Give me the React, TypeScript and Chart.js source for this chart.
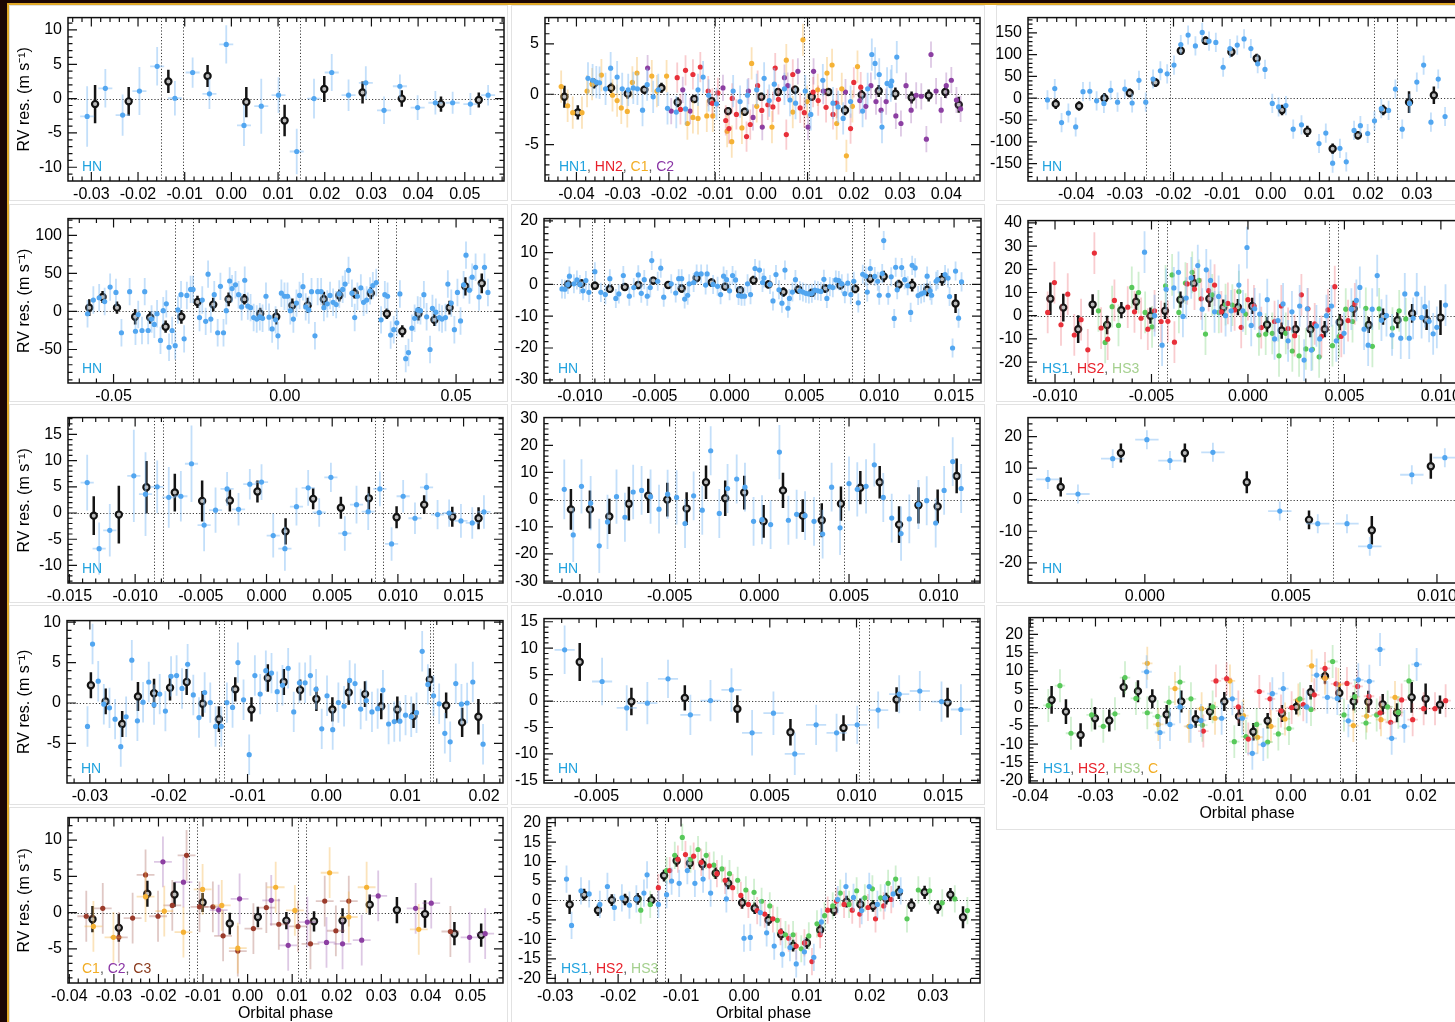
import React, { useEffect, useRef } from "react";
import { Chart, registerables } from "chart.js";
Chart.register(...registerables);

type Pt = number[];

// ---------------- Panel A ----------------
const aHN: Pt[] = [[-0.0309,-2.6,4.4],[-0.027,1.5,2.8],[-0.0233,-2.4,3.0],[-0.0197,1.1,3.5],[-0.0159,4.7,2.8],[-0.0121,0.05,2.5],[-0.0083,3.8,2.2],[-0.0047,0.7,2.2],[-0.0011,7.9,2.8],[0.0027,-3.9,3.0],[0.0064,-1.1,4.0],[0.0101,0.5,2.6],[0.014,-7.7,3.3],[0.0177,0.0,2.9],[0.0215,3.8,2.7],[0.0251,0.5,2.3],[0.0288,2.3,2.4],[0.0327,-1.7,2.0],[0.0361,1.8,1.7],[0.0399,-1.3,1.8],[0.0437,-0.6,1.7],[0.0474,-0.6,1.6],[0.0512,-0.8,1.6],[0.055,0.5,1.5]];
const aBin: Pt[] = [[-0.0292,-0.8,2.8],[-0.022,-0.4,2.1],[-0.0135,2.5,1.7],[-0.0051,3.3,1.6],[0.0032,-0.5,2.2],[0.0114,-3.2,2.3],[0.0199,1.4,1.9],[0.0281,0.9,1.6],[0.0365,0.0,1.2],[0.0449,-0.8,1.1],[0.053,-0.2,1.1]];
const aXTicks = [-0.03,-0.02,-0.01,0,0.01,0.02,0.03,0.04,0.05];
const aYTicks = [-10,-5,0,5,10];
const aContacts = [-0.015,-0.0103,0.0101,0.0146];

// ---------------- Panel B ----------------
const bHN1: Pt[] = [[-0.0375,1.58],[-0.0365,1.39],[-0.0357,1.2],[-0.035,1.14],[-0.0337,0.54],[-0.0326,2.59],[-0.0312,1.7],[-0.0301,0.54],[-0.0288,0.44],[-0.0277,0.63],[-0.0268,0.54],[-0.0257,-1.58],[-0.0247,0.95],[-0.0234,-0.25],[-0.0223,0.44],[-0.0203,-1.39],[-0.0184,-1.77],[-0.0164,-1.45],[-0.0137,0.44],[-0.0126,1.7],[-0.0114,-0.1],[-0.0097,-0.95],[-0.0061,0.32],[-0.0046,-0.73],[-0.003,-0.1],[-0.001,0.44],[0.0006,1.58],[0.0017,-0.63],[0.0028,1.0],[0.005,0.54],[0.0062,-0.57],[0.0074,-0.88],[0.0095,0.32],[0.0107,-2.0],[0.0133,1.39],[0.0155,-0.88],[0.0166,-1.26],[0.0177,-2.4],[0.0193,-0.73],[0.0219,-1.67],[0.023,0.54],[0.0239,3.94],[0.0246,3.06],[0.0255,1.96],[0.0261,-3.25],[0.0272,1.07],[0.028,0.85],[0.0282,1.3],[0.0293,3.69]];
const bHN2: Pt[] = [[-0.0182,1.64],[-0.0175,-1.5],[-0.0164,2.37],[-0.0148,1.96],[-0.0132,2.7],[-0.0115,0.32],[-0.0106,-0.9],[-0.0094,0.13],[-0.0077,-2.6],[-0.007,-3.4],[-0.0063,-0.41],[-0.0054,-2.0],[-0.0032,-4.2],[-0.0024,-3.0],[-0.0008,0.85],[0.0001,-1.6],[0.0014,-1.04],[0.0025,-1.26],[0.003,2.6],[0.0037,-0.5],[0.0054,-4.0],[0.0068,1.96],[0.0084,-1.36],[0.0093,-1.83],[0.0112,0.22],[0.0123,-0.63],[0.014,-1.3],[0.0155,-2.0],[0.0163,-0.88],[0.0193,-3.4],[0.02,1.17],[0.0215,0.7]];
const bC1: Pt[] = [[-0.0433,0.76],[-0.0419,-1.14],[-0.0408,-1.83],[-0.0388,-1.83],[-0.0377,0.32],[-0.0366,1.0],[-0.0346,1.9],[-0.0322,-0.1],[-0.0312,-0.63],[-0.0303,-1.36],[-0.029,-1.7],[-0.0279,1.17],[-0.0269,2.1],[-0.0237,1.8],[-0.0226,0.32],[-0.0205,1.8],[-0.016,-2.9],[-0.0148,-2.3],[-0.0137,-2.4],[-0.0118,-2.15],[-0.0105,-2.15],[-0.0074,-3.66],[-0.0064,-4.7],[-0.0042,-3.34],[-0.0021,3.06],[-0.001,-1.2],[0.0023,-3.25],[0.0054,3.38],[0.0068,-1.77],[0.009,5.4],[0.0099,-0.73],[0.0122,0.44],[0.0142,2.1],[0.0153,2.9],[0.0163,-2.9],[0.0174,0.54],[0.0184,-6.1],[0.0197,-1.2],[0.0208,2.74]];
const bC2: Pt[] = [[-0.0246,2.6],[-0.0195,-1.67],[-0.017,0.44],[-0.0154,-1.67],[-0.0083,0.63],[-0.0028,0.32],[-0.0018,-2.3],[0.0002,-3.25],[0.005,1.64],[0.0057,0.85],[0.0079,2.27],[0.0101,-3.25],[0.0113,2.27],[0.0134,0.32],[0.0182,0.22],[0.0213,-0.63],[0.0226,-1.2],[0.0237,0.85],[0.0248,-0.73],[0.0259,-1.58],[0.027,-0.73],[0.0291,-2.15],[0.0302,-2.9],[0.0313,0.85],[0.0324,-1.58],[0.0335,-0.1],[0.0346,-0.2],[0.0357,-4.45],[0.0367,3.94],[0.0378,0.32],[0.0389,-1.58],[0.04,0.85],[0.0411,1.39],[0.0422,-0.57],[0.0431,-1.45]];
const bBin: Pt[] = [[-0.0426,-0.25,1.1],[-0.0397,-1.8,0.7],[-0.0362,1.07,0.5],[-0.0325,0.63,0.5],[-0.0289,0.06,0.5],[-0.0253,0.44,0.4],[-0.0216,0.63,0.5],[-0.0181,-0.8,0.5],[-0.0145,-0.47,0.4],[-0.0108,-0.66,0.4],[-0.0072,-1.67,0.4],[-0.0036,-1.73,0.4],[0.0,-0.25,0.4],[0.0036,0.22,0.4],[0.0073,0.44,0.4],[0.0109,-0.25,0.4],[0.0145,0.22,0.4],[0.0181,-1.58,0.5],[0.0217,-0.06,0.5],[0.0254,0.32,0.6],[0.029,0.06,0.6],[0.0325,-0.32,0.6],[0.0362,-0.13,0.6],[0.0398,0.22,0.6],[0.0427,-1.04,0.8]];
const bXTicks = [-0.04,-0.03,-0.02,-0.01,0,0.01,0.02,0.03,0.04];
const bYTicks = [-5,0,5];
const bContacts = [-0.0103,-0.0092,0.0093,0.0104];

// ---------------- Panel C ----------------
const cHN: Pt[] = [[-0.0459,-4],[-0.0444,22],[-0.043,-56],[-0.0416,-34],[-0.0401,-66],[-0.0386,15],[-0.0372,16],[-0.0358,-6],[-0.0343,-12],[-0.0329,18],[-0.0315,-9],[-0.03,21],[-0.0285,-11],[-0.0271,41],[-0.0257,-9],[-0.0242,44],[-0.0227,63],[-0.0213,56],[-0.0199,76],[-0.0185,123],[-0.017,145],[-0.0155,120],[-0.0141,151],[-0.0127,131],[-0.0113,128],[-0.0098,71],[-0.0084,114],[-0.0069,122],[-0.0055,136],[-0.0041,114],[-0.0027,79],[-0.0012,66],[0.0003,-12],[0.0016,-20],[0.0031,-17],[0.0046,-71],[0.0063,-61],[0.0099,-104],[0.0113,-80],[0.0127,-149],[0.0142,-115],[0.0155,-146],[0.0171,-74],[0.0184,-63],[0.0199,-81],[0.0213,-52],[0.0227,-24],[0.0242,-28],[0.0256,21],[0.027,-71],[0.0285,-12],[0.03,37],[0.0314,76],[0.0329,-55],[0.0344,44],[0.0358,-42]];
const cBin: Pt[] = [[-0.0442,-13,12],[-0.0394,-18,11],[-0.0342,0,12],[-0.029,12,10],[-0.0237,36,10],[-0.0185,109,10],[-0.0134,132,10],[-0.0081,106,11],[-0.0029,91,11],[0.0023,-27,12],[0.0075,-76,13],[0.0127,-116,12],[0.0179,-85,10],[0.0231,-27,12],[0.0284,-9,25],[0.0335,7,20]];
const cXTicks = [-0.04,-0.03,-0.02,-0.01,0,0.01,0.02,0.03];
const cYTicks = [-150,-100,-50,0,50,100,150];
const cContacts = [-0.0257,-0.0208,0.0212,0.026];

// ---------------- Panel D ----------------
const dHN: Pt[] = [[-0.0576,-3],[-0.0559,15],[-0.0542,18],[-0.0526,13],[-0.051,32],[-0.0493,25],[-0.0477,-28],[-0.0453,26],[-0.0436,-26],[-0.0428,-4],[-0.0417,-25],[-0.0409,26],[-0.0399,-25],[-0.0389,-10],[-0.0381,-17],[-0.0373,-3],[-0.0363,-38],[-0.0355,1],[-0.0346,10],[-0.0338,-47],[-0.0329,-25],[-0.032,-45],[-0.0312,2],[-0.0303,22],[-0.0294,-36],[-0.0286,21],[-0.0275,29],[-0.0268,29],[-0.0249,-8],[-0.0241,15],[-0.0231,-13],[-0.0224,49],[-0.0216,-10],[-0.0206,22],[-0.0196,-28],[-0.0188,33],[-0.0179,-28],[-0.0171,1],[-0.0161,40],[-0.0154,30],[-0.0144,35],[-0.0135,22],[-0.0126,6],[-0.0117,41],[-0.0108,7],[-0.01,5],[-0.0091,-8],[-0.0082,-10],[-0.0073,-7],[-0.0065,-9],[-0.0055,20],[-0.0046,-7.5],[-0.0037,-23],[-0.0027,-11],[-0.002,-32],[-0.001,24],[-0.0001,20],[0.0008,20],[0.0016,1],[0.0025,-10],[0.0034,11],[0.0043,21],[0.0053,32.5],[0.0061,6],[0.007,2],[0.0078,26],[0.0088,-32],[0.0096,26],[0.0106,26],[0.0114,5],[0.0124,10],[0.0132,21],[0.0141,12],[0.015,9],[0.0159,23],[0.0169,29],[0.0176,36],[0.0186,54],[0.0196,24],[0.0204,-8],[0.0212,20],[0.0222,31],[0.023,12],[0.0239,15],[0.0249,27],[0.0257,34],[0.0267,38],[0.0281,-11],[0.0292,22],[0.03,20],[0.0309,-31],[0.0318,-24],[0.0327,-15],[0.0336,23],[0.0353,-62],[0.0361,-54],[0.0371,-22],[0.0379,-9],[0.0388,2],[0.0396,1],[0.0406,22],[0.0414,-7],[0.0424,-50],[0.0431,4],[0.0441,-1],[0.0451,-8],[0.0459,-10],[0.0469,-8],[0.0476,36],[0.0486,11],[0.0495,-24],[0.0504,25],[0.0513,-12.5],[0.0522,35],[0.0529,74],[0.0539,28],[0.0547,45],[0.0557,58],[0.0567,19],[0.0583,58],[0.0593,25]];
const dBin: Pt[] = [[-0.0571,5,11],[-0.0532,19,8],[-0.049,5,8],[-0.0437,-7,10],[-0.0393,-8,8],[-0.0348,-20,8],[-0.0302,-7,9],[-0.0255,12.5,8],[-0.0209,9,9],[-0.0164,16,9],[-0.0118,16,7],[-0.0072,-3,8],[-0.0025,-7,10],[0.0022,8,9],[0.0067,8,10],[0.0114,16,10],[0.0159,21,8],[0.0204,24,7],[0.0251,24,8],[0.0298,-3,7],[0.0343,-26,8],[0.039,-3,9],[0.0437,-11,8],[0.0481,5,9],[0.0527,33,12],[0.0575,37,13]];
const dXTicks = [-0.05,0,0.05];
const dYTicks = [-50,0,50,100];
const dContacts = [-0.032,-0.0268,0.0272,0.0324];

// ---------------- Panel E ----------------
const eHN: Pt[] = [[-0.0112,-1.4],[-0.011,-1.5],[-0.0108,0],[-0.0107,2.6],[-0.0104,0.2],[-0.0102,1.4],[-0.01,0],[-0.0098,-2.0],[-0.0096,1.2],[-0.0094,-2.5],[-0.009,4.0],[-0.0086,-2.5],[-0.0083,-3.2],[-0.008,1.8],[-0.0076,-4.4],[-0.0074,-3.0],[-0.0071,2.8],[-0.0067,-3.7],[-0.0064,-1.0],[-0.0061,3.0],[-0.0059,-2.8],[-0.0057,1.5],[-0.0055,-3.7],[-0.0053,-1.0],[-0.0052,7.5],[-0.0048,1.0],[-0.0046,5.1],[-0.0044,-4.0],[-0.0039,0.2],[-0.0036,-2.7],[-0.0034,1.8],[-0.0032,1.8],[-0.003,-4.6],[-0.0028,-3.4],[-0.0027,0.2],[-0.0024,0.6],[-0.0022,3.3],[-0.0019,3.3],[-0.0016,-0.2],[-0.0015,3.3],[-0.0011,0],[-0.0008,-0.6],[-0.0006,-3.2],[-0.0004,2.6],[-0.0002,1.5],[0.0,-2.0],[0.0002,2.8],[0.0004,1.4],[0.0006,-3.5],[0.0008,-3.7],[0.001,-3.7],[0.0012,0.2],[0.0014,-3.2],[0.0017,5.0],[0.002,4.5],[0.0022,0.6],[0.0023,2.0],[0.0027,0],[0.0029,-5.2],[0.0031,3.1],[0.0033,-1.7],[0.0035,-5.9],[0.0037,4.5],[0.0039,-7.5],[0.004,-4.4],[0.0042,-2.4],[0.0044,1.5],[0.0047,-2.0],[0.0049,-2.4],[0.0051,-2.8],[0.0053,-3.0],[0.0055,-2.8],[0.0057,-1.8],[0.0059,-2.0],[0.0061,-2.2],[0.0063,1.6],[0.0065,-4.4],[0.0067,-0.7],[0.0069,-1.0],[0.0071,1.4],[0.0073,1.2],[0.0075,0.2],[0.0077,-2.9],[0.0079,0.4],[0.0081,-3.2],[0.0083,1.0],[0.0086,-5.8],[0.0089,3.2],[0.0091,2.6],[0.0092,-2.4],[0.0094,5.0],[0.0097,2.5],[0.0099,1.0],[0.01,-3.4],[0.0102,3.4],[0.0103,13.8],[0.0106,-3.4],[0.0108,2.4],[0.011,-10.7],[0.0111,5.4],[0.0112,-1.7],[0.0115,5.3],[0.0117,1.5],[0.0119,-0.4],[0.0121,-8.8],[0.0122,6.0],[0.0124,5.2],[0.0126,-3.5],[0.0128,-3.0],[0.013,-2.6],[0.0132,2.6],[0.0134,-2.0],[0.0135,-3.4],[0.0138,1.0],[0.0139,1.5],[0.0144,3.1],[0.0146,2.0],[0.0147,-3.8],[0.0149,-20],[0.0151,4.2],[0.0153,-10.6],[0.0155,0.8]];
const eBin: Pt[] = [[-0.0108,0,1.3],[-0.0099,0.3,1.3],[-0.009,-0.4,1.3],[-0.008,-1.4,1.2],[-0.007,-0.8,1.2],[-0.0061,-0.2,1.3],[-0.0051,1.2,1.2],[-0.0041,-0.2,1.2],[-0.0032,-1.3,1.3],[-0.0022,2.0,1.3],[-0.0012,0.6,1.3],[-0.0003,-0.7,1.2],[0.0007,-1.8,1.3],[0.0016,1.3,1.4],[0.0026,0,1.3],[0.0036,-2.4,1.5],[0.0046,-1.6,1.2],[0.0055,-2.6,1.2],[0.0064,-1.3,1.3],[0.0074,-0.3,1.3],[0.0084,-1.4,1.4],[0.0094,1.8,1.5],[0.0103,2.5,1.8],[0.0113,0,1.5],[0.0122,-0.2,2.0],[0.0132,-1.7,2.0],[0.0142,1.6,2.0],[0.0151,-6.0,3.0]];
const eXTicks = [-0.01,-0.005,0,0.005,0.01,0.015];
const eYTicks = [-30,-20,-10,0,10,20];
const eContacts = [-0.0092,-0.0084,0.0082,0.009];

// ---------------- Panel F ----------------
const fHS1: Pt[] = [[-0.00536,27.4],[-0.00484,0],[-0.00445,-12.7],[-0.00424,11.4],[-0.00384,12.0],[-0.0036,18.7],[-0.00337,-0.3],[-0.0032,7.6],[-0.00294,16.3],[-0.0026,21.6],[-0.00237,2.8],[-0.00216,19.8],[-0.00194,15.2],[-0.00173,1.7],[-0.00152,8.3],[-0.00116,0],[-0.00087,2.1],[-0.00047,13.2],[-0.00026,2.1],[-0.00005,29.4],[0.00017,-4.2],[0.00035,3.0],[0.00061,0.7],[0.001,6.9],[0.00138,-10.0],[0.00156,-2.1],[0.00182,5.1],[0.00208,-10.8],[0.00228,1.7],[0.00268,4.2],[0.00291,-19.1],[0.00308,3.0],[0.00329,-14.8],[0.00355,-4.4],[0.00372,-10.0],[0.00407,0],[0.00433,4.2],[0.00458,-10.8],[0.00498,-7.6],[0.00536,2.8],[0.00562,6.6],[0.0058,12.2],[0.00602,-5.8],[0.00623,-12.7],[0.00644,2.8],[0.0067,17.3],[0.00692,-1.9],[0.00718,0],[0.00747,-8.3],[0.00792,-9.7],[0.00813,9.4],[0.00836,-9.7],[0.00856,-1.1],[0.00875,9.4],[0.009,-0.8],[0.00917,3.9],[0.00939,-2.4],[0.0096,-7.8],[0.00979,-5.0],[0.01024,4.6]];
const fHS2: Pt[] = [[-0.01038,1.4],[-0.01003,14.3],[-0.00969,-3.9],[-0.00934,9.3],[-0.009,-8.3],[-0.00865,-1.7],[-0.0083,-14.7],[-0.00796,27],[-0.00761,-5.3],[-0.00727,-10.1],[-0.00692,6.6],[-0.00623,3.7],[-0.00588,1.7],[-0.00554,-1.1],[-0.00519,-5.8],[-0.00484,2.1],[-0.0045,-2.5],[-0.00415,-2.4],[-0.00381,-11.4],[-0.00315,13.7],[-0.00277,11.5],[-0.00242,7.3],[-0.00204,10.8],[-0.00173,13.2],[-0.00138,1.7],[-0.00104,5.3],[-0.00069,2.5],[-0.00035,-5.0],[0.0,6.9],[0.00031,4.2],[0.00069,-5.1],[0.00138,-2.5],[0.00173,4.2],[0.00208,-5.5],[0.00242,-8.6],[0.00277,9.0],[0.00311,3.0],[0.00346,-3.5],[0.00381,-8.9],[0.00415,2.5],[0.0045,12.5],[0.00484,-8.9],[0.00519,-2.1],[0.00554,5.1]];
const fHS3: Pt[] = [[-0.00775,2.1],[-0.0074,-11.5],[-0.00704,3.9],[-0.00671,-4.2],[-0.00602,12.2],[-0.00567,10.0],[-0.00533,1.4],[-0.00497,-4.8],[-0.00427,12.9],[-0.00393,17.6],[-0.00358,1.4],[-0.00324,14.1],[-0.00289,18.7],[-0.00254,15.2],[-0.0022,-7.9],[-0.00185,9.0],[-0.00151,1.4],[-0.00116,4.8],[-0.00081,4.6],[-0.00047,10.4],[-0.00012,0.7],[0.00057,-8.3],[0.00092,-7.9],[0.00126,-7.6],[0.00161,-17.3],[0.00196,-7.6],[0.0023,-15.2],[0.00265,-17.3],[0.003,-14.3],[0.00334,-14.5],[0.00369,-17.7],[0.00438,-12.9],[0.00472,-9.0],[0.00507,2.8],[0.00542,-2.5],[0.00611,3.2],[0.00645,-13.2],[0.0068,3.0],[0.00749,-5.3],[0.00784,2.1],[0.00818,-1.4]];
const fBin: Pt[] = [[-0.01024,7.3,7],[-0.00957,3.5,6],[-0.0088,-5.8,6],[-0.00805,4.8,4.5],[-0.0073,-4.0,4],[-0.00656,2.4,3.5],[-0.0058,6.0,3.5],[-0.00505,0,3.5],[-0.0043,2.1,3.5],[-0.0035,6.9,3.5],[-0.0028,14.0,3.5],[-0.002,7.3,3.5],[-0.00128,3.5,3.5],[-0.00052,3.7,3.5],[0.00022,4.2,3.5],[0.00099,-3.9,3.5],[0.00175,-6.4,3.5],[0.00247,-5.8,3.5],[0.00324,-5.8,3.5],[0.00398,-5.8,3.5],[0.00476,-2.8,3.5],[0.00548,3.0,3.5],[0.00626,-4.0,3.5],[0.007,-0.4,3.5],[0.00775,-1.9,3.5],[0.00851,1.0,4],[0.00926,-1.7,4.5],[0.00998,-0.8,7.5]];
const fXTicks = [-0.01,-0.005,0,0.005,0.01];
const fYTicks = [-20,-10,0,10,20,30,40];
const fContacts = [-0.00465,-0.0042,0.0042,0.00467];

// ---------------- Panel G ----------------
const gHN: Pt[] = [[-0.01365,5.8,5.3],[-0.01274,-6.8,5],[-0.01193,-3.3,5],[-0.0101,7.1,8.8],[-0.00921,3.6,8],[-0.00832,5.0,5],[-0.00744,3.0,5.8],[-0.00652,3.2,4.8],[-0.00571,9.4,7.3],[-0.00475,-2.3,5],[-0.00388,0.55,4.3],[-0.003,4.6,3.2],[-0.00213,0.7,3.1],[-0.00127,5.5,2.9],[-0.00038,5.9,3.4],[0.00051,-4.3,4.2],[0.0014,-6.8,4.2],[0.00228,1.2,3.6],[0.00317,4.8,3.4],[0.00401,0.1,2.7],[0.0049,6.8,2.8],[0.00596,-3.9,3.3],[0.00685,1.6,3.6],[0.00774,0.25,3.5],[0.00863,4.6,3.3],[0.00952,-5.9,3.2],[0.0104,3.2,3.1],[0.0113,-1.0,3.0],[0.01218,4.9,2.7],[0.01302,-0.3,2.8],[0.0139,0.0,2.6],[0.0148,-1.5,3.2],[0.01566,-1.9,3.0],[0.01655,0.2,3.2]];
const gBin: Pt[] = [[-0.01315,-0.5,3.7],[-0.01124,-0.3,5.5],[-0.00914,4.9,5],[-0.00698,3.9,3.6],[-0.0049,2.3,3.9],[-0.00279,2.4,2.1],[-0.00069,4.1,2.1],[0.00145,-3.5,2.5],[0.00355,2.7,2.0],[0.00566,1.0,2.1],[0.00779,2.8,2.2],[0.0099,-0.8,2.1],[0.012,1.6,1.8],[0.01414,-0.7,1.9],[0.01614,-1.0,2.1]];
const gXTicks = [-0.015,-0.01,-0.005,0,0.005,0.01,0.015];
const gYTicks = [-10,-5,0,5,10,15];
const gContacts = [-0.00855,-0.0079,0.00825,0.0089];

// ---------------- Panel H ----------------
const hHN: Pt[] = [[-0.01087,3.8,11],[-0.01037,-13,10],[-0.00991,4.9,10],[-0.0094,-1.3,10],[-0.00892,-17,10],[-0.00846,-8.2,10],[-0.00796,1.1,10],[-0.00749,-6.5,9],[-0.00703,2.8,10],[-0.00656,3.4,9],[-0.00606,1.1,10],[-0.00559,-3.5,9],[-0.00511,2.0,9],[-0.00461,0.8,10],[-0.00414,-8.8,9],[-0.00366,1.4,9],[-0.00318,-3.9,9],[-0.00271,18,9],[-0.00223,-5.1,9],[-0.00177,4.1,9],[-0.00126,7.6,9],[-0.0008,4.6,9],[-0.00032,-8.0,9],[0.00015,-7.4,9],[0.00063,-9.2,9],[0.00112,17.5,10],[0.00162,-7.6,9],[0.00208,-5.4,9],[0.00255,-5.9,9],[0.00305,-8.0,9],[0.00353,-12.7,9],[0.00403,4.6,9],[0.0045,-10.4,10],[0.005,5.9,10],[0.00546,3.8,10],[0.00595,4.9,10],[0.00641,12.8,8],[0.00691,0.8,9],[0.00738,-6.8,9],[0.0079,-12.5,10],[0.00836,-7.1,9],[0.00887,-1.8,9],[0.00933,-0.4,9],[0.00983,-8.6,9],[0.0103,3.4,9],[0.01078,14,9],[0.01125,4.1,9]];
const hBin: Pt[] = [[-0.0105,-3.6,7.5],[-0.00944,-3.6,7],[-0.00836,-6.2,6.5],[-0.00727,-1.5,6.2],[-0.00619,1.4,6.3],[-0.00513,0,6.2],[-0.00405,-3.3,6],[-0.00297,6.4,6.2],[-0.0019,0.5,6.5],[-0.00084,2.6,6.2],[0.00024,-8.0,6],[0.00132,3.4,6.5],[0.00242,-5.9,6],[0.00348,-7.6,6.3],[0.00455,-1.5,6.3],[0.00563,4.4,6.1],[0.00671,6.4,6],[0.00779,-9.2,6.8],[0.00887,-2.1,6.7],[0.00994,-2.5,6.2],[0.011,8.7,6.4]];
const hXTicks = [-0.01,-0.005,0,0.005,0.01];
const hYTicks = [-30,-20,-10,0,10,20,30];
const hContacts = [-0.0047,-0.00335,0.00335,0.00472];

// ---------------- Panel I ----------------
const iHN: Pt[] = [[-0.00332,6.4,3],[-0.00229,1.8,3],[-0.0011,13,3],[0.00007,19,3],[0.00086,12.4,3],[0.00233,15,3],[0.00462,-3.6,3],[0.00592,-7.6,3],[0.00692,-7.6,3],[0.0077,-14.8,3],[0.00914,7.9,3],[0.01027,13.3,3]];
const iBin: Pt[] = [[-0.00288,4,3],[-0.00082,14.8,3],[0.00137,14.8,3],[0.00349,5.5,3.5],[0.00562,-6.4,3],[0.00777,-9.7,4.5],[0.00979,10.6,4]];
const iXTicks = [0,0.005,0.01];
const iYTicks = [-20,-10,0,10,20];
const iContacts = [0.00486,0.00644];

// ---------------- Panel J ----------------
const jHN: Pt[] = [[-0.0303,-2.9],[-0.02966,7.3],[-0.02894,2.7],[-0.02823,-0.15],[-0.02751,-0.6],[-0.0268,-2.0],[-0.02608,-5.4],[-0.0254,-1.7],[-0.02468,5.3],[-0.02397,-2.2],[-0.02325,0.1],[-0.02253,2.6],[-0.02186,-0.2],[-0.02114,1.1],[-0.02042,-1.0],[-0.0197,3.3],[-0.019,3.4],[-0.01831,1.8],[-0.0176,4.8],[-0.01688,1.0],[-0.01616,-1.8],[-0.01544,1.3],[-0.01473,0.05],[-0.01405,-2.9],[-0.01333,-2.9],[-0.01262,0.05],[-0.0119,-0.55],[-0.01122,5.0],[-0.01051,0.4],[-0.00979,-6.4],[-0.00907,3.4],[-0.0084,1.1],[-0.00768,4.0],[-0.00696,3.7],[-0.00624,1.4],[-0.00557,2.2],[-0.00485,4.3],[-0.00414,-1.1],[-0.00342,2.5],[-0.0027,2.5],[-0.00203,3.4],[-0.00131,1.7],[-0.00059,-3.2],[0.00008,0.9],[0.0008,-3.3],[0.00152,0.05],[0.00224,-0.4],[0.00295,2.8],[0.00363,2.4],[0.00435,-0.75],[0.00506,0.3],[0.00578,-1.1],[0.0065,-0.7],[0.00717,1.6],[0.00789,-2.6],[0.00861,-2.3],[0.00932,-2.25],[0.01004,-1.5],[0.01076,-1.7],[0.01143,-1.2],[0.01215,6.4],[0.01287,2.3],[0.01359,0.9],[0.0143,-0.1],[0.01502,-3.75],[0.0157,-4.8],[0.01641,2.4],[0.01713,-0.15],[0.01785,0.0],[0.01857,2.6],[0.01987,-5.1]];
const jBin: Pt[] = [[-0.02987,2.2,1.6],[-0.028,0.2,1.6],[-0.0259,-2.6,1.6],[-0.0239,0.8,1.8],[-0.02186,1.2,1.8],[-0.01983,1.9,1.6],[-0.01772,2.6,1.6],[-0.0157,-0.1,1.6],[-0.01363,-2.0,1.6],[-0.01156,1.7,1.5],[-0.0095,-0.8,1.5],[-0.00743,3.1,1.7],[-0.0054,2.6,1.6],[-0.00333,1.6,1.3],[-0.00127,0.5,1.5],[0.00076,-0.8,1.5],[0.00283,1.3,1.5],[0.0049,1.1,1.6],[0.00696,-0.4,1.6],[0.009,-0.8,1.6],[0.01105,-1.6,1.5],[0.01312,2.9,1.4],[0.01519,-0.3,1.6],[0.01722,-2.4,1.8],[0.01928,-1.7,2.2]];
const jXTicks = [-0.03,-0.02,-0.01,0,0.01,0.02];
const jYTicks = [-5,0,5,10];
const jContacts = [-0.0136,-0.013,0.0132,0.0135];

// ---------------- Panel K ----------------
const kHN: Pt[] = [[-0.00683,9.7,4.6],[-0.00467,3.7,4.5],[-0.00325,-1.3,4.3],[-0.00206,-0.4,4],[-0.00087,4.2,3.6],[0.00042,-2.6,3.8],[0.00158,0.1,3.9],[0.00279,2.1,4.1],[0.00398,-6.0,4.3],[0.00521,-2.3,4.1],[0.00644,-10.0,4],[0.00767,-4.5,3.8],[0.00885,-6.0,3.6],[0.01004,-4.5,3.6],[0.01125,-1.7,3.5],[0.01246,1.3,3.6],[0.01365,1.9,3.8],[0.0149,-0.1,3.8],[0.01602,-1.6,4.8]];
const kBin: Pt[] = [[-0.00596,7.4,3.6],[-0.00298,-0.1,2.6],[0.0001,0.6,2.4],[0.00313,-1.5,2.6],[0.00619,-5.9,2.5],[0.00925,-5.1,2.4],[0.01231,0.3,2.3],[0.01525,-0.3,2.8]];
const kXTicks = [-0.005,0,0.005,0.01,0.015];
const kYTicks = [-15,-10,-5,0,5,10,15];
const kContacts = [0.01013,0.01071];

// ---------------- Panel L ----------------
const lHS1: Pt[] = [[-0.02215,9.8],[-0.0201,-6.8],[-0.01857,-4.6],[-0.01703,0.2],[-0.0154,-5.1],[-0.01381,-3.5],[-0.01064,-2.9],[-0.009,2.4],[-0.00747,-2.9],[-0.00593,-12.5],[-0.00425,-10.1],[-0.00286,3.8],[-0.00118,5.2],[0.0024,0.2],[0.00394,8.9],[0.00558,2.8],[0.00711,2.5],[0.0088,-3.6],[0.01033,7.6],[0.01202,7.2],[0.01366,15.9],[0.01545,-8.4],[0.01739,-5.1],[0.01928,11.8]];
const lHS2: Pt[] = [[-0.01345,-6.4],[-0.01151,7.3],[-0.00987,7.9],[-0.00808,0.2],[-0.00655,-8.6],[-0.00486,4.4],[-0.00322,2.4],[-0.00153,-0.9],[0.0001,0],[0.00189,0.8],[0.00358,3.5],[0.00522,10.7],[0.00691,6.5],[0.00859,6.6],[0.01023,5.8],[0.01197,3.1],[0.01366,-1.4],[0.01529,-4.0],[0.01698,2.1],[0.01867,-3.3],[0.02036,-0.3],[0.0221,-0.3],[0.02373,1.9]];
const lHS3: Pt[] = [[-0.03724,0.6],[-0.03545,6.0],[-0.03376,-7.0],[-0.03059,-2.0],[-0.0288,-5.1],[-0.02701,-1.7],[-0.02547,8.2],[-0.02379,2.5],[-0.02205,-1.4],[-0.02046,-2.4],[-0.01872,1.5],[-0.01703,7.0],[-0.01535,2.4],[-0.01361,-4.8],[-0.01202,0.2],[-0.0087,-9.3],[-0.00691,-7.9],[-0.00527,-4.6],[-0.00358,-9.4],[-0.00194,-7.2],[-0.00031,-5.7],[0.00138,2.4],[0.00307,-0.5],[0.00639,12.6],[0.00813,-2.0],[0.00982,3.0],[0.01151,-4.2],[0.01315,-2.0],[0.01483,0.2],[0.01647,-1.3],[0.0181,7.3]];
const lC: Pt[] = [[-0.02205,12.1],[-0.02036,-4.6],[-0.0178,5.2],[-0.01565,-5.1],[-0.01371,-0.3],[-0.01166,-2.9],[-0.00936,7.3],[-0.00731,-2.2],[-0.00512,-8.1],[-0.00307,-5.1],[-0.00092,-3.1],[0.00113,2.1],[0.00317,11.4],[0.00522,8.0],[0.00726,6.3],[0.00957,-4.9],[0.01161,-2.3],[0.01381,-3.3],[0.01596,2.8]];
const lBin: Pt[] = [[-0.03673,2.1,3.8],[-0.03453,-1.1,3.4],[-0.03228,-7.5,3.2],[-0.03008,-2.9,3.1],[-0.02788,-3.5,3.0],[-0.02568,5.6,2.8],[-0.02348,4.5,3.0],[-0.02128,2.4,2.6],[-0.01908,-1.9,2.6],[-0.01683,1.7,3.0],[-0.01463,-3.1,2.4],[-0.01243,-1.1,2.3],[-0.01023,1.7,2.6],[-0.00798,-2.4,2.6],[-0.00578,-6.6,2.4],[-0.00358,-3.6,2.1],[-0.00138,-1.6,2.3],[0.00082,0.2,2.1],[0.00302,4.2,2.0],[0.00522,8.6,2.1],[0.00742,4.0,2.5],[0.00962,1.7,2.5],[0.01187,1.6,3.0],[0.01407,0.9,2.8],[0.01627,-1.4,2.6],[0.01852,2.8,4.2],[0.02066,2.4,4.2],[0.02286,0.8,2.5]];
const lXTicks = [-0.04,-0.03,-0.02,-0.01,0,0.01,0.02];
const lYTicks = [-20,-15,-10,-5,0,5,10,15,20];
const lContacts = [-0.0099,-0.0074,0.0075,0.0099];

// ---------------- Panel M ----------------
const mC1: Pt[] = [[-0.0346,-1.9],[-0.0301,-3.4],[-0.0229,2.2],[-0.0187,0.2],[-0.0144,-2.7],[-0.0101,3.2],[-0.0058,1.0],[-0.0022,-4.9],[0.0063,3.5],[0.0106,0.3],[0.0184,5.5],[0.0227,-0.6],[0.0267,3.5],[0.0384,-2.3]];
const mC2: Pt[] = [[-0.019,7.0],[-0.0144,4.2],[-0.0065,0.35],[-0.0018,1.9],[0.0053,1.7],[0.0091,-4.5],[0.0134,-1.3],[0.0177,-4.1],[0.0213,-4.3],[0.0256,-3.8],[0.0293,2.3],[0.0377,0.6],[0.0412,1.3],[0.0498,-3.4],[0.0533,-2.9]];
const mC3: Pt[] = [[-0.0362,-0.5],[-0.0325,0.6],[-0.0289,-3.4],[-0.0258,-0.75],[-0.0229,5.2],[-0.0201,-0.5],[-0.0169,1.0],[-0.0137,7.9],[-0.0108,0.8],[-0.0078,0.8],[-0.0055,-3.2],[-0.0022,-5.3],[0.0013,-2.2],[0.0042,0.7],[0.007,-1.6],[0.0113,-1.9],[0.0141,-4.3],[0.0173,1.6],[0.0198,-2.5],[0.0227,1.6],[0.0455,-2.6]];
const mBin: Pt[] = [[-0.0348,-0.9,1.8],[-0.0289,-2.1,1.9],[-0.0225,2.6,1.8],[-0.0164,2.5,1.7],[-0.0101,1.4,1.3],[-0.004,-1.5,1.5],[0.0023,-0.6,1.4],[0.0087,-1.1,1.2],[0.0149,-1.2,1.4],[0.0213,-1.1,1.7],[0.0274,1.1,1.4],[0.0335,0.35,1.8],[0.0398,-0.2,1.9],[0.0464,-2.9,1.6],[0.0524,-3.1,1.6]];
const mXTicks = [-0.04,-0.03,-0.02,-0.01,0,0.01,0.02,0.03,0.04,0.05];
const mYTicks = [-5,0,5,10];
const mContacts = [-0.0131,-0.0114,0.0114,0.0131];

// ---------------- Panel N ----------------
const nHS1: Pt[] = [[-0.0282,5.5],[-0.0274,-6.4],[-0.0259,2.5],[-0.0246,1.7],[-0.0229,-1.0],[-0.0217,3.6],[-0.0206,-1.8],[-0.0194,0.7],[-0.0182,-1.2],[-0.0171,0.4],[-0.0159,1.9],[-0.0154,6.6],[-0.0136,-1.0],[-0.0123,1.5],[-0.0115,5.0],[-0.0103,4.4],[-0.009,7.7],[-0.0078,4.4],[-0.0065,5.5],[-0.0053,1.9],[-0.0028,0.4],[0.0,-9.7],[0.001,-9.5],[0.0026,-3.1],[0.0036,-8.3],[0.0048,-11.7],[0.0061,-13.8],[0.0073,-12.1],[0.0083,-16.3],[0.0096,-13.2],[0.0111,-14.6],[0.0123,-5.5],[0.0149,0.25],[0.0162,3.6],[0.0174,0.8],[0.0187,-2.6],[0.0199,3.6],[0.0212,-1.0],[0.0224,0.7],[0.0237,1.7],[0.0249,2.5]];
const nHS2: Pt[] = [[-0.0136,3.3],[-0.0118,7.7],[-0.0105,10.6],[-0.0093,11.8],[-0.008,11.4],[-0.0068,9.8],[-0.0055,8.9],[-0.0043,6.9],[-0.003,5.2],[-0.0018,3.3],[-0.0005,1.3],[0.0007,-1.0],[0.0021,-2.6],[0.0033,-3.5],[0.0046,-4.7],[0.0058,-8.0],[0.0071,-9.7],[0.0083,-11.7],[0.0096,-10.9],[0.0108,-15.7],[0.0121,-8.8],[0.0133,-2.5],[0.0147,-0.2],[0.0159,-1.0],[0.0172,-2.5],[0.0184,-3.5],[0.0197,-1.8],[0.0209,-4.7],[0.0222,-1.4],[0.0234,0.25]];
const nHS3: Pt[] = [[-0.0164,-2.5],[-0.0149,-1.0],[-0.0123,7.7],[-0.011,11.6],[-0.0098,16.2],[-0.0085,10.6],[-0.0073,13.1],[-0.006,11.6],[-0.0048,9.1],[-0.0035,8.1],[-0.0023,6.9],[-0.001,5.2],[0.0003,2.7],[0.0016,2.1],[0.0028,-0.2],[0.0041,-1.4],[0.0053,-5.1],[0.0066,-8.8],[0.0078,-8.8],[0.0091,-12.4],[0.0103,-9.1],[0.0116,-6.0],[0.0128,-3.9],[0.0141,-1.4],[0.0153,1.9],[0.0167,-1.0],[0.0179,2.5],[0.0192,0.7],[0.0204,3.0],[0.0217,0.7],[0.0229,4.4],[0.0241,5.5],[0.0259,-4.7],[0.0277,2.7],[0.0295,2.5],[0.0315,-0.6],[0.0335,0.4],[0.0355,-2.6]];
const nBin: Pt[] = [[-0.0277,-1.0,2.5],[-0.0254,1.5,1.5],[-0.0232,-2.5,1.5],[-0.021,0.1,1.5],[-0.0189,0.25,1.5],[-0.0169,0.4,1.5],[-0.0147,0.1,1.5],[-0.0127,6.4,1.5],[-0.0107,10.2,1.5],[-0.0086,9.6,1.5],[-0.0066,9.3,1.5],[-0.0045,7.0,1.5],[-0.0025,4.4,1.5],[-0.0003,-0.6,1.5],[0.0017,-2.0,1.5],[0.0039,-5.0,1.5],[0.0059,-8.7,1.5],[0.0078,-11.6,1.5],[0.01,-10.9,1.5],[0.0121,-7.6,1.5],[0.0143,-2.5,1.5],[0.0163,-0.3,1.5],[0.0185,-1.0,1.5],[0.0205,-1.4,1.5],[0.0226,0.5,1.5],[0.0246,2.1,1.7],[0.0266,-1.2,1.7],[0.0287,2.1,1.7],[0.0308,-1.7,1.7],[0.0328,1.5,1.7],[0.0348,-4.3,2.8]];
const nXTicks = [-0.03,-0.02,-0.01,0,0.01,0.02,0.03];
const nYTicks = [-20,-15,-10,-5,0,5,10,15,20];
const nContacts = [-0.01386,-0.01254,0.01286,0.01444];

// ---------------- styles ----------------
const FONT = '"Liberation Sans", Arial, Helvetica, sans-serif';
const BLUE = "#52a6f0", BLUE_E = "rgba(135,192,245,0.5)";
const RED = "#e8303a", RED_E = "rgba(236,95,105,0.32)";
const ORANGE = "#f5b235", ORANGE_E = "rgba(245,182,75,0.38)";
const PURPLE = "#8c3fa2", PURPLE_E = "rgba(150,85,172,0.32)";
const GREEN = "#58c95a", GREEN_E = "rgba(110,205,110,0.32)";
const BROWN = "#9b3b2b", BROWN_E = "rgba(160,85,75,0.32)";
const L_BLUE = "#22a3df", L_RED = "#e8202a", L_ORANGE = "#f2ad24", L_PURPLE = "#8a35a5", L_GREEN = "#a4d08e", L_BROWN = "#8a3a1c", COMMA = "#555";

type Series = { pts: Pt[]; err: number; xerr: number; color: string; errColor: string };
type Spec = {
  id: string; cLeft: number; L: number; T: number; R: number; B: number;
  xMin: number; xMax: number; yMin: number; yMax: number;
  xTicks: number[]; yTicks: number[]; xDec: number; xMinor: number; yMinor: number;
  vlines: number[]; series: Series[]; bin: Pt[]; legend: [string, string][];
  yTitle: boolean; xTitle: boolean;
};
const ser = (pts: Pt[], err: number, xerr: number, color: string, errColor: string): Series => ({ pts, err, xerr, color, errColor });
const HN: [string, string][] = [["HN", L_BLUE]];

const specs: Spec[] = [
  { id: "A", cLeft: 9, L: 68, T: 10, R: 504, B: 181, xMin: -0.035, xMax: 0.0584, yMin: -12, yMax: 11.8, xTicks: aXTicks, yTicks: aYTicks, xDec: 2, xMinor: 0.002, yMinor: 1, vlines: aContacts, series: [ser(aHN, 2, 0.0015, BLUE, BLUE_E)], bin: aBin, legend: HN, yTitle: true, xTitle: false },
  { id: "B", cLeft: 509, L: 545, T: 10, R: 980, B: 181, xMin: -0.0468, xMax: 0.0473, yMin: -8.6, yMax: 7.6, xTicks: bXTicks, yTicks: bYTicks, xDec: 2, xMinor: 0.002, yMinor: 1, vlines: bContacts, series: [ser(bHN1, 1.6, 0, BLUE, BLUE_E), ser(bHN2, 1.5, 0, RED, RED_E), ser(bC1, 1.6, 0, ORANGE, ORANGE_E), ser(bC2, 1.3, 0, PURPLE, PURPLE_E)], bin: bBin, legend: [["HN1", L_BLUE], [", ", COMMA], ["HN2", L_RED], [", ", COMMA], ["C1", L_ORANGE], [", ", COMMA], ["C2", L_PURPLE]], yTitle: false, xTitle: false },
  { id: "C", cLeft: 984, L: 1028, T: 10, R: 1465, B: 181, xMin: -0.0499, xMax: 0.0399, yMin: -190, yMax: 185, xTicks: cXTicks, yTicks: cYTicks, xDec: 2, xMinor: 0.002, yMinor: 10, vlines: cContacts, series: [ser(cHN, 22, 0, BLUE, BLUE_E)], bin: cBin, legend: HN, yTitle: false, xTitle: false },
  { id: "D", cLeft: 9, L: 68, T: 211, R: 503, B: 383, xMin: -0.0633, xMax: 0.0637, yMin: -94, yMax: 122, xTicks: dXTicks, yTicks: dYTicks, xDec: 2, xMinor: 0.005, yMinor: 10, vlines: dContacts, series: [ser(dHN, 18, 0, BLUE, BLUE_E)], bin: dBin, legend: HN, yTitle: true, xTitle: false },
  { id: "E", cLeft: 509, L: 544, T: 211, R: 981, B: 383, xMin: -0.0124, xMax: 0.0168, yMin: -31, yMax: 20.7, xTicks: eXTicks, yTicks: eYTicks, xDec: 3, xMinor: 0.001, yMinor: 2, vlines: eContacts, series: [ser(eHN, 3, 0, BLUE, BLUE_E)], bin: eBin, legend: HN, yTitle: false, xTitle: false },
  { id: "F", cLeft: 984, L: 1028, T: 213, R: 1465, B: 383, xMin: -0.0114, xMax: 0.01125, yMin: -29, yMax: 41, xTicks: fXTicks, yTicks: fYTicks, xDec: 3, xMinor: 0.001, yMinor: 2, vlines: fContacts, series: [ser(fHS1, 9, 0, BLUE, BLUE_E), ser(fHS2, 9, 0, RED, RED_E), ser(fHS3, 9, 0, GREEN, GREEN_E)], bin: fBin, legend: [["HS1", L_BLUE], [", ", COMMA], ["HS2", L_RED], [", ", COMMA], ["HS3", L_GREEN]], yTitle: false, xTitle: false },
  { id: "G", cLeft: 9, L: 68, T: 410, R: 503, B: 583, xMin: -0.01511, xMax: 0.018, yMin: -13.35, yMax: 18.2, xTicks: gXTicks, yTicks: gYTicks, xDec: 3, xMinor: 0.001, yMinor: 1, vlines: gContacts, series: [ser(gHN, 3, 0.0005, BLUE, BLUE_E)], bin: gBin, legend: HN, yTitle: true, xTitle: false },
  { id: "H", cLeft: 509, L: 544, T: 410, R: 980, B: 583, xMin: -0.012, xMax: 0.0123, yMin: -30.7, yMax: 30.2, xTicks: hXTicks, yTicks: hYTicks, xDec: 3, xMinor: 0.001, yMinor: 2, vlines: hContacts, series: [ser(hHN, 9, 0, BLUE, BLUE_E)], bin: hBin, legend: HN, yTitle: false, xTitle: false },
  { id: "I", cLeft: 984, L: 1028, T: 410, R: 1465, B: 583, xMin: -0.004, xMax: 0.01096, yMin: -26.4, yMax: 26, xTicks: iXTicks, yTicks: iYTicks, xDec: 3, xMinor: 0.001, yMinor: 2, vlines: iContacts, series: [ser(iHN, 3, 0.0004, BLUE, BLUE_E)], bin: iBin, legend: HN, yTitle: false, xTitle: false },
  { id: "J", cLeft: 9, L: 67, T: 613, R: 503, B: 783, xMin: -0.0329, xMax: 0.0224, yMin: -9.9, yMax: 10.2, xTicks: jXTicks, yTicks: jYTicks, xDec: 2, xMinor: 0.002, yMinor: 1, vlines: jContacts, series: [ser(jHN, 2.5, 0, BLUE, BLUE_E)], bin: jBin, legend: HN, yTitle: true, xTitle: false },
  { id: "K", cLeft: 509, L: 544, T: 611, R: 980, B: 783, xMin: -0.00802, xMax: 0.01712, yMin: -15.5, yMax: 15.6, xTicks: kXTicks, yTicks: kYTicks, xDec: 3, xMinor: 0.001, yMinor: 1, vlines: kContacts, series: [ser(kHN, 4, 0.00058, BLUE, BLUE_E)], bin: kBin, legend: HN, yTitle: false, xTitle: false },
  { id: "L", cLeft: 984, L: 1029, T: 610, R: 1465, B: 783, xMin: -0.0402, xMax: 0.0267, yMin: -20.6, yMax: 24.6, xTicks: lXTicks, yTicks: lYTicks, xDec: 2, xMinor: 0.002, yMinor: 1, vlines: lContacts, series: [ser(lHS1, 4.5, 0.0008, BLUE, BLUE_E), ser(lHS2, 4.5, 0.0008, RED, RED_E), ser(lHS3, 4.5, 0.0008, GREEN, GREEN_E), ser(lC, 4.5, 0.0008, ORANGE, ORANGE_E)], bin: lBin, legend: [["HS1", L_BLUE], [", ", COMMA], ["HS2", L_RED], [", ", COMMA], ["HS3", L_GREEN], [", ", COMMA], ["C", L_ORANGE]], yTitle: false, xTitle: true },
  { id: "M", cLeft: 9, L: 68, T: 810, R: 503, B: 983, xMin: -0.0403, xMax: 0.0573, yMin: -9.7, yMax: 13.1, xTicks: mXTicks, yTicks: mYTicks, xDec: 2, xMinor: 0.002, yMinor: 1, vlines: mContacts, series: [ser(mC1, 3.5, 0.002, ORANGE, ORANGE_E), ser(mC2, 3.5, 0.002, PURPLE, PURPLE_E), ser(mC3, 3.5, 0.002, BROWN, BROWN_E)], bin: mBin, legend: [["C1", L_ORANGE], [", ", COMMA], ["C2", L_PURPLE], [", ", COMMA], ["C3", L_BROWN]], yTitle: true, xTitle: true },
  { id: "N", cLeft: 509, L: 547, T: 810, R: 980, B: 983, xMin: -0.0313, xMax: 0.0375, yMin: -21.2, yMax: 21.3, xTicks: nXTicks, yTicks: nYTicks, xDec: 2, xMinor: 0.002, yMinor: 1, vlines: nContacts, series: [ser(nHS1, 3.5, 0, BLUE, BLUE_E), ser(nHS2, 3.5, 0, RED, RED_E), ser(nHS3, 3.5, 0, GREEN, GREEN_E)], bin: nBin, legend: [["HS1", L_BLUE], [", ", COMMA], ["HS2", L_RED], [", ", COMMA], ["HS3", L_GREEN]], yTitle: false, xTitle: true },
];

const fmt = (v: number, d: number) => (Math.abs(v) < 1e-12 ? 0 : v).toFixed(d);

function makeDecor(s: Spec) {
  return {
    id: "decor" + s.id,
    beforeDatasetsDraw(chart: any) {
      const { ctx, chartArea: a, scales } = chart;
      const xs = scales.x, ys = scales.y;
      ctx.save();
      ctx.beginPath(); ctx.rect(a.left, a.top, a.right - a.left, a.bottom - a.top); ctx.clip();
      ctx.strokeStyle = "#3c3c3c"; ctx.lineWidth = 1; ctx.setLineDash([1.2, 2]);
      ctx.beginPath();
      const y0 = Math.round(ys.getPixelForValue(0)) + 0.5;
      ctx.moveTo(a.left, y0); ctx.lineTo(a.right, y0);
      for (const v of s.vlines) {
        const px = Math.round(xs.getPixelForValue(v)) + 0.5;
        ctx.moveTo(px, a.top); ctx.lineTo(px, a.bottom);
      }
      ctx.stroke();
      ctx.restore();
    },
    beforeDatasetDraw(chart: any, args: any) {
      const ds: any = chart.data.datasets[args.index];
      const { ctx, chartArea: a, scales } = chart;
      const xs = scales.x, ys = scales.y;
      ctx.save();
      ctx.beginPath(); ctx.rect(a.left, a.top, a.right - a.left, a.bottom - a.top); ctx.clip();
      ctx.strokeStyle = ds.errColor; ctx.lineWidth = ds.errWidth; ctx.lineCap = "butt";
      ds.data.forEach((p: any, j: number) => {
        const e = ds.errY[j];
        const px = xs.getPixelForValue(p.x), py = ys.getPixelForValue(p.y);
        ctx.beginPath();
        ctx.moveTo(px, ys.getPixelForValue(p.y - e)); ctx.lineTo(px, ys.getPixelForValue(p.y + e));
        if (ds.errX) { ctx.moveTo(xs.getPixelForValue(p.x - ds.errX), py); ctx.lineTo(xs.getPixelForValue(p.x + ds.errX), py); }
        ctx.stroke();
      });
      ctx.restore();
    },
    afterDraw(chart: any) {
      const { ctx, chartArea: a, scales } = chart;
      const xs = scales.x, ys = scales.y;
      ctx.save();
      ctx.strokeStyle = "#111"; ctx.lineWidth = 1.5;
      ctx.strokeRect(a.left, a.top, a.right - a.left, a.bottom - a.top);
      ctx.lineWidth = 1.2;
      ctx.beginPath();
      const tx = (v: number, len: number) => {
        const p = xs.getPixelForValue(v);
        if (p < a.left + 1 || p > a.right - 1) return;
        ctx.moveTo(p, a.bottom); ctx.lineTo(p, a.bottom - len);
        ctx.moveTo(p, a.top); ctx.lineTo(p, a.top + len);
      };
      const ty = (v: number, len: number) => {
        const p = ys.getPixelForValue(v);
        if (p < a.top + 1 || p > a.bottom - 1) return;
        ctx.moveTo(a.left, p); ctx.lineTo(a.left + len, p);
        ctx.moveTo(a.right, p); ctx.lineTo(a.right - len, p);
      };
      s.xTicks.forEach((v) => tx(v, 9));
      s.yTicks.forEach((v) => ty(v, 9));
      for (let k = Math.ceil(s.xMin / s.xMinor - 1e-6); k * s.xMinor <= s.xMax; k++) tx(k * s.xMinor, 4.5);
      for (let k = Math.ceil(s.yMin / s.yMinor - 1e-6); k * s.yMinor <= s.yMax; k++) ty(k * s.yMinor, 4.5);
      ctx.stroke();
      ctx.font = "14px " + FONT;
      ctx.textBaseline = "alphabetic";
      let lx = a.left + 14;
      const ly = a.bottom - 10;
      for (const [t, c] of s.legend) { ctx.fillStyle = c; ctx.fillText(t, lx, ly); lx += ctx.measureText(t).width; }
      ctx.restore();
    },
  };
}

function makeConfig(s: Spec, yw: number, xh: number, pt: number, pr: number): any {
  const datasets: any[] = s.series.map((se) => ({
    data: se.pts.map((p) => ({ x: p[0], y: p[1] })),
    errY: se.pts.map((p) => (p.length > 2 ? p[2] : se.err)),
    errX: se.xerr, errColor: se.errColor, errWidth: 1.8,
    pointRadius: 2.6, backgroundColor: se.color, borderColor: se.color, pointBorderWidth: 0, borderWidth: 0,
  }));
  datasets.push({
    data: s.bin.map((p) => ({ x: p[0], y: p[1] })),
    errY: s.bin.map((p) => p[2]), errX: 0, errColor: "#141414", errWidth: 2.5,
    pointRadius: 3.1, backgroundColor: "#bdbdbd", borderColor: "#141414", pointBorderWidth: 2.2, borderWidth: 2.2,
  });
  const tickFont = { family: FONT, size: 16 };
  return {
    type: "scatter",
    data: { datasets },
    options: {
      responsive: false, animation: false, devicePixelRatio: 1, events: [],
      layout: { padding: { top: pt, right: pr, left: 0, bottom: 0 } },
      plugins: { legend: { display: false }, tooltip: { enabled: false } },
      scales: {
        x: {
          type: "linear", min: s.xMin, max: s.xMax,
          grid: { display: false, drawTicks: false }, border: { display: false },
          ticks: { autoSkip: false, maxRotation: 0, minRotation: 0, padding: 4, color: "#000", font: tickFont, callback: (v: any) => fmt(Number(v), s.xDec) },
          afterBuildTicks: (sc: any) => { sc.ticks = s.xTicks.filter((v) => v >= s.xMin && v <= s.xMax).map((v) => ({ value: v })); },
          afterFit: (sc: any) => { sc.height = xh; },
          title: s.xTitle ? { display: true, text: "Orbital phase", color: "#000", font: { family: FONT, size: 16 }, padding: { top: 0, bottom: 6 } } : { display: false },
        },
        y: {
          type: "linear", min: s.yMin, max: s.yMax,
          grid: { display: false, drawTicks: false }, border: { display: false },
          ticks: { autoSkip: false, padding: 6, color: "#000", font: tickFont, callback: (v: any) => fmt(Number(v), 0) },
          afterBuildTicks: (sc: any) => { sc.ticks = s.yTicks.filter((v) => v >= s.yMin && v <= s.yMax).map((v) => ({ value: v })); },
          afterFit: (sc: any) => { sc.width = yw; },
          title: s.yTitle ? { display: true, text: "RV res. (m s\u207B\u00B9)", color: "#000", font: { family: FONT, size: 16 }, padding: { top: 6, bottom: 0 } } : { display: false },
        },
      },
    },
    plugins: [makeDecor(s)],
  };
}

function Panel({ s }: { s: Spec }) {
  const ref = useRef<HTMLCanvasElement>(null);
  const pt = 8, pr = 8;
  const xh = s.xTitle ? 46 : 30;
  const yw = s.L - s.cLeft;
  const w = s.R - s.cLeft + pr;
  const h = s.B - s.T + pt + xh;
  useEffect(() => {
    const chart = new Chart(ref.current as HTMLCanvasElement, makeConfig(s, yw, xh, pt, pr));
    return () => chart.destroy();
  }, []);
  return <canvas ref={ref} width={w} height={h} style={{ position: "absolute", left: s.cLeft, top: s.T - pt, width: w, height: h }} />;
}

const boxes: number[][] = [
  [9, 5, 499, 196], [511, 5, 474, 196], [996, 5, 470, 196],
  [9, 204, 499, 198], [511, 204, 474, 198], [996, 204, 470, 198],
  [9, 404, 499, 199], [511, 404, 474, 199], [996, 404, 470, 199],
  [9, 605, 499, 200], [511, 605, 474, 200], [996, 605, 470, 225],
  [9, 807, 499, 220], [511, 807, 474, 220],
];

export default function App() {
  return (
    <div style={{ position: "fixed", left: 0, top: 0, width: 1455, height: 1022, overflow: "hidden", background: "#fff" }}>
      {boxes.map((b, i) => (
        <div key={"b" + i} style={{ position: "absolute", left: b[0], top: b[1], width: b[2], height: b[3], border: "1px solid #e2e2e2", boxSizing: "border-box" }} />
      ))}
      {specs.map((s) => <Panel key={s.id} s={s} />)}
      <div style={{ position: "absolute", left: 0, top: 0, width: 7, height: 1022, background: "#1c0604" }} />
      <div style={{ position: "absolute", left: 7, top: 3, width: 2, height: 1022, background: "#e2a928" }} />
      <div style={{ position: "absolute", left: 0, top: 0, width: 1455, height: 3, background: "#1c0604" }} />
      <div style={{ position: "absolute", left: 7, top: 3, width: 1448, height: 1.5, background: "#e2a928" }} />
    </div>
  );
}
